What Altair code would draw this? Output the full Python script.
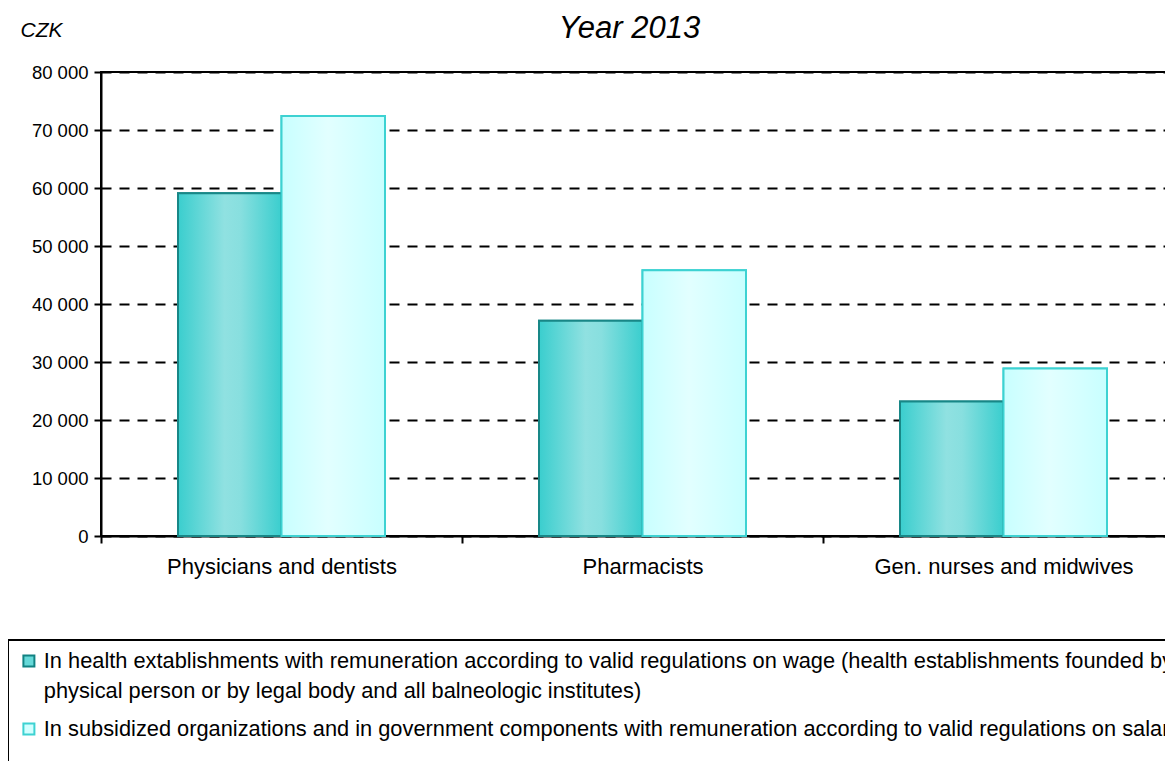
import altair as alt
import pandas as pd

categories = ["Physicians and dentists", "Pharmacists", "Gen. nurses and midwives"]
series = [
    "In health extablishments with remuneration according to valid regulations on wage (health establishments founded by\nphysical person or by legal body and all balneologic institutes)",
    "In subsidized organizations and in government components with remuneration according to valid regulations on salary",
]
wage_values = [59100, 37100, 23200]
salary_values = [72400, 45800, 28900]
y_ticks = [0, 10000, 20000, 30000, 40000, 50000, 60000, 70000, 80000]

rows = []
for c, v in zip(categories, wage_values):
    rows.append({"category": c, "series": series[0], "value": v})
for c, v in zip(categories, salary_values):
    rows.append({"category": c, "series": series[1], "value": v})
df = pd.DataFrame(rows)

FONT = "Liberation Sans"

base = alt.Chart(df).encode(
    x=alt.X(
        "category:N",
        sort=categories,
        scale=alt.Scale(paddingInner=0, paddingOuter=0),
        axis=alt.Axis(
            title=None,
            labelAngle=0,
            labelFont=FONT,
            labelFontSize=22,
            labelColor="black",
            labelPadding=13,
            labelLimit=500,
            tickBand="extent",
            tickSize=7,
            tickColor="black",
            tickWidth=2,
            domainColor="black",
            domainWidth=2,
            grid=False,
        ),
    ),
    xOffset=alt.XOffset(
        "series:N",
        sort=series,
        scale=alt.Scale(domain=series, paddingInner=0, paddingOuter=0.744),
    ),
    y=alt.Y(
        "value:Q",
        scale=alt.Scale(domain=[0, 80000], nice=False),
        axis=alt.Axis(
            title="CZK",
            titleAngle=0,
            titleAlign="left",
            titleBaseline="middle",
            titleX=-81,
            titleY=-42,
            titleFont=FONT,
            titleFontSize=21,
            titleFontStyle="italic",
            titleFontWeight="normal",
            titleColor="black",
            values=y_ticks,
            labelExpr="replace(format(datum.value, ','), ',', ' ')",
            labelFont=FONT,
            labelFontSize=18.5,
            labelColor="black",
            labelPadding=6,
            tickSize=7,
            tickColor="black",
            tickWidth=2,
            domainColor="black",
            domainWidth=2,
            grid=True,
            gridColor="black",
            gridDash=[10, 8],
            gridWidth=2,
        ),
    ),
)

legend_spec = alt.Legend(
    title=" ",
    titleOrient="bottom",
    titleFontSize=34,
    titlePadding=0,
    orient="none",
    legendX=-93,
    legendY=568,
    direction="vertical",
    symbolType="square",
    symbolSize=121,
    symbolStrokeWidth=2,
    labelFont=FONT,
    labelFontSize=21.8,
    labelColor="black",
    labelLimit=3000,
    labelOffset=4,
    labelExpr="split(datum.label, '\\n')",
    rowPadding=15,
    padding=10,
    strokeColor="black",
    fillColor="white",
)

legend_layer = base.mark_bar(strokeWidth=2).encode(
    fill=alt.Fill("series:N", sort=series,
                  scale=alt.Scale(domain=series, range=["#66D9D9", "#D2FFFF"]),
                  legend=legend_spec),
    stroke=alt.Stroke("series:N", sort=series,
                      scale=alt.Scale(domain=series, range=["#118282", "#3DD2D2"]),
                      legend=legend_spec),
)

grad1 = alt.Gradient(
    gradient="linear", x1=0, x2=1, y1=0, y2=0,
    stops=[
        alt.GradientStop(offset=0, color="#3ACECE"),
        alt.GradientStop(offset=0.45, color="#90E1E1"),
        alt.GradientStop(offset=0.6, color="#88DFDF"),
        alt.GradientStop(offset=1, color="#3ACECE"),
    ],
)
grad2 = alt.Gradient(
    gradient="linear", x1=0, x2=1, y1=0, y2=0,
    stops=[
        alt.GradientStop(offset=0, color="#C8FFFF"),
        alt.GradientStop(offset=0.45, color="#E2FFFF"),
        alt.GradientStop(offset=1, color="#C8FFFF"),
    ],
)

g1 = base.transform_filter(alt.datum.series == series[0]).mark_bar(
    fill=grad1, stroke="#188787", strokeWidth=2)
g2 = base.transform_filter(alt.datum.series == series[1]).mark_bar(
    fill=grad2, stroke="#3DD2D2", strokeWidth=2)

chart = alt.layer(legend_layer, g1, g2).properties(
    width=1083,
    height=464,
    title=alt.TitleParams(
        "Year 2013", font=FONT, fontSize=31, fontStyle="italic",
        fontWeight="normal", color="black", anchor="middle", offset=-26,
        dx=-13,
    ),
    autosize=alt.AutoSizeParams(type="none"),
    padding={"left": 93, "top": 64, "right": -19, "bottom": 225},
).configure(
    style={"guide-label": {"lineHeight": 30}}
).configure_view(
    stroke="black", strokeWidth=2
).configure_legend(
    strokeWidth=2
)

chart.save("out.html", embed_options={"renderer": "svg", "actions": False})
